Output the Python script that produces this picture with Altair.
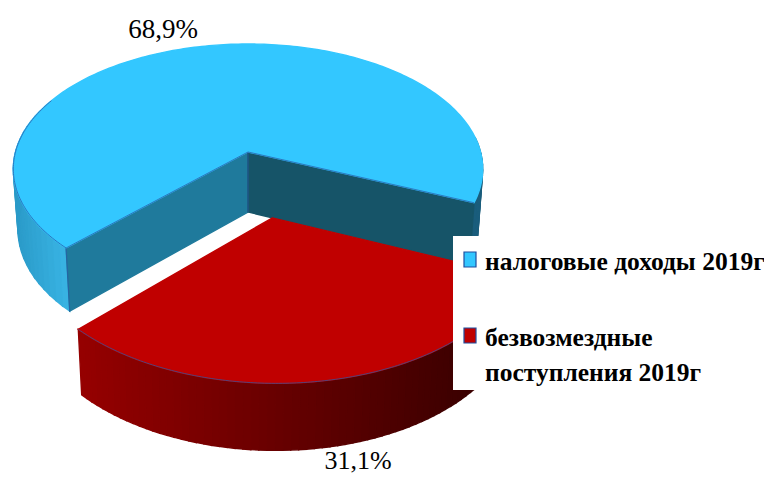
import math
import altair as alt

# --- chart content -------------------------------------------------------
shares = [68.9, 31.1]
share_labels = ["68,9%", "31,1%"]
legend_lines = ["налоговые доходы 2019г", "безвозмездные\nпоступления 2019г"]
top_colors = ["#33c7ff", "#c00000"]
edge_color = "#2a5aa8"

# --- perspective view of the pie -----------------------------------------
CX, CY = 248, 152      # apex of the un-exploded slice (page pixels)
RX, RY = 232.5, 122.7  # radii
TILT = -0.136          # perspective of the disc
DEPTH, DEPTH_TILT, SHRINK = 60, -0.07, 0.02
START = 135.0          # degrees: first slice begins here and runs clockwise on screen
EXPLODE = 0.51         # radial offset of the second slice
OX, OY = -8, -8        # page margin


def proj(x, y, z=0.0):
    w = 1 + TILT * y
    f = 1 - SHRINK * z
    sx = CX + RX * x / w * f
    sy = CY + RY * y / w + DEPTH * z / (1 + DEPTH_TILT * y)
    return [sx, sy]


def polar(deg, off=(0.0, 0.0), r=1.0):
    a = math.radians(deg)
    return (off[0] + r * math.cos(a), off[1] + r * math.sin(a))


def lerp_hex(a, b, t):
    t = max(0.0, min(1.0, t))
    ca = [int(a[i:i + 2], 16) for i in (1, 3, 5)]
    cb = [int(b[i:i + 2], 16) for i in (1, 3, 5)]
    return "#%02x%02x%02x" % tuple(round(p + (q - p) * t) for p, q in zip(ca, cb))


def feat(points, fill):
    pts = [points + [points[0]]]
    return {"type": "Feature", "geometry": {"type": "Polygon", "coordinates": pts},
            "properties": {"fill": fill}}


def line(points, color=edge_color):
    return {"type": "Feature", "geometry": {"type": "LineString", "coordinates": points},
            "properties": {"stroke": color}}


blue_span = 360 * shares[0] / sum(shares)
blue_a, blue_b = START, START + blue_span   # 135 -> 383 (through left and top)
red_a, red_b = blue_b - 360, START          # 23 -> 135 (through bottom)
red_mid = (red_a + red_b) / 2
red_off = polar(red_mid, r=EXPLODE)
apex = (0.0, 0.0)
red_apex = red_off

polys, lines = [], []


def wall(a0, a1, off, color_fn, n):
    for i in range(n):
        u0 = a0 + (a1 - a0) * i / n
        u1 = a0 + (a1 - a0) * (i + 1) / n
        p0, p1 = polar(u0, off), polar(u1, off)
        q = [proj(*p0), proj(*p1), proj(*p1, 1), proj(*p0, 1)]
        polys.append(feat(q, color_fn(q[0][0])))


# blue outer walls (left and far right)
wall(blue_a, 200, apex, lambda x: lerp_hex("#2a9ac8", "#38b2e2", (x - 13) / 52), 24)
wall(blue_b - 30, blue_b, apex, lambda x: "#1a5d7c", 12)
# blue inner walls
p_a, p_b = polar(blue_a), polar(blue_b)
polys.append(feat([proj(*apex), proj(*p_a), proj(*p_a, 1), proj(*apex, 1)], "#1f7a9c"))
polys.append(feat([proj(*apex), proj(*p_b), proj(*p_b, 1), proj(*apex, 1)], "#165468"))
# blue top
blue_rim = [proj(*polar(blue_a + (blue_b - blue_a) * i / 240)) for i in range(241)]
polys.append(feat([proj(*apex)] + blue_rim, top_colors[0]))
# red outer wall
wall(red_a, red_b, red_off, lambda x: lerp_hex("#3c0000", "#960000", (470 - x) / 390), 70)
# red top
red_rim = [proj(*polar(red_a + (red_b - red_a) * i / 160, red_off)) for i in range(161)]
polys.append(feat([proj(*red_apex)] + red_rim, top_colors[1]))

# thin edges
lines.append(line(blue_rim[:70]))
lines.append(line([proj(*apex), proj(*p_a)]))
lines.append(line([proj(*apex), proj(*p_b)]))
lines.append(line([proj(*apex), proj(*apex, 1)]))
lines.append(line([proj(*p_a), proj(*p_a, 1)]))
lines.append(line(red_rim))
lines.append(line([proj(*red_rim[-1]), proj(*red_rim[-1], 1)]))

projection = dict(type="identity", scale=1, translate=[OX, OY])

poly_layer = (
    alt.Chart(alt.Data(values=polys))
    .mark_geoshape(strokeWidth=1.4)
    .encode(fill=alt.Color("properties.fill:N", scale=None),
            stroke=alt.Color("properties.fill:N", scale=None))
    .project(**projection)
)
line_layer = (
    alt.Chart(alt.Data(values=lines))
    .mark_geoshape(filled=False, strokeWidth=0.9, opacity=0.8)
    .encode(stroke=alt.Color("properties.stroke:N", scale=None))
    .project(**projection)
)


def box(x0, y0, x1, y1, fill, stroke=None):
    kw = dict(fill=fill)
    if stroke:
        kw.update(stroke=stroke, strokeWidth=1.2)
    return alt.Chart(alt.Data(values=[{}])).mark_rect(**kw).encode(
        x=alt.value(x0 + OX), x2=alt.value(x1 + OX), y=alt.value(y0 + OY), y2=alt.value(y1 + OY))


def label(txt, x, y, size, bold=False, align="left", line_h=None):
    kw = dict(font="Liberation Serif", fontSize=size, color="#000000", align=align, baseline="alphabetic")
    if bold:
        kw["fontWeight"] = "bold"
    if line_h:
        kw.update(lineBreak="\n", lineHeight=line_h)
    return alt.Chart(alt.Data(values=[{"t": txt}])).mark_text(**kw).encode(
        text="t:N", x=alt.value(x + OX), y=alt.value(y + OY))


chart = alt.layer(
    poly_layer,
    line_layer,
    box(453, 236, 764, 390, "#ffffff"),
    box(464, 252, 476, 267, top_colors[0], "#1f4fa0"),
    box(464, 328, 476, 343, top_colors[1], "#1f4fa0"),
    label(legend_lines[0], 485, 270, 25.5, bold=True),
    label(legend_lines[1], 485, 346, 25.5, bold=True, line_h=35),
    label(share_labels[0], 163, 38, 27, align="center"),
    label(share_labels[1], 358, 468.5, 26, align="center"),
).properties(width=756, height=467, padding=0,
             autosize=alt.AutoSizeParams(type="none")).configure_view(stroke=None)

chart.save("out.html", embed_options={"renderer": "svg", "actions": False})
